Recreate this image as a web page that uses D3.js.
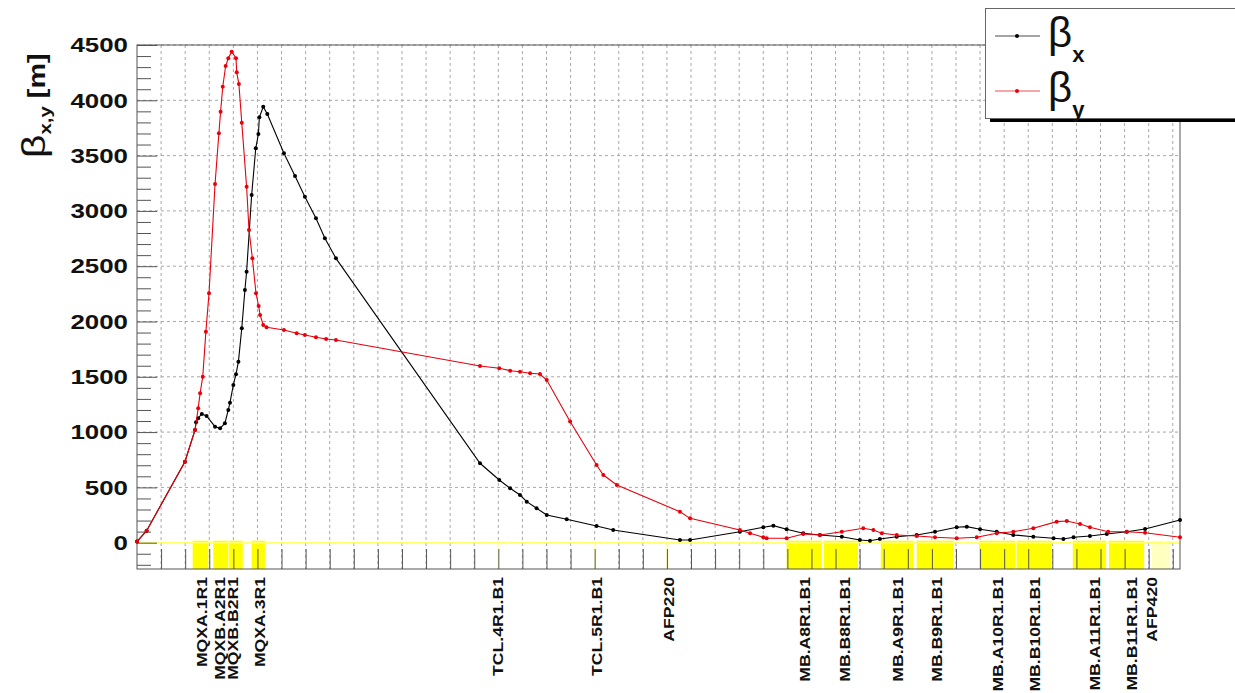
<!DOCTYPE html>
<html>
<head>
<meta charset="utf-8">
<script src="https://cdn.jsdelivr.net/npm/d3@7"></script>
<style>
body { margin: 0; background: #fff; }
svg { display: block; font-family: "Liberation Sans", Arial, sans-serif; }
</style>
</head>
<body>
<div id="chartDiv"></div>
<script>
// beta_y (red), s in m
var sY = [0, 4.0, 19.9, 24.1, 25.4, 26.2, 27.3, 28.6, 29.9, 32.4, 34.0, 34.7, 35.6, 36.8, 37.9, 39.3, 41.1, 41.4, 42.3, 43.5,
  45.5, 46.5, 47.9, 49.4, 50.5, 51.1, 52.4, 53.8, 61.0, 66.3, 69.7, 74.3, 78.5, 82.6, 142.4, 150.4, 154.9, 159.0, 163.2, 167.3,
  170.1, 179.8, 190.8, 193.6, 199.2, 225.4, 229.6, 250.3, 254.5, 260.0, 261.4, 269.7, 276.6, 283.5, 292.6, 301.5, 305.7, 309.2,
  315.4, 323.7, 331.3, 340.3, 348.6, 356.9, 363.8, 372.1, 381.8, 386.0, 391.5, 395.6, 403.2, 410.9, 418.5, 433];
var betaY = [10, 108, 732, 1019, 1215, 1351, 1501, 1908, 2255, 3243, 3702, 3897, 4123, 4310, 4380, 4440, 4380, 4253, 4147, 3797,
  3219, 2827, 2571, 2255, 2140, 2059, 1968, 1948, 1923, 1893, 1878, 1857, 1842, 1833, 1598, 1577, 1555, 1546, 1532, 1525,
  1471, 1095, 702, 612, 522, 280, 220, 115, 85, 49, 40, 40, 78, 70, 99, 130, 115, 85,
  70, 61, 49, 40, 49, 85, 99, 130, 190, 196, 169, 139, 99, 99, 90, 49];

// beta_x (black)
var sX = [0, 4.0, 19.9, 24.1, 24.5, 25.4, 26.9, 28.9, 32.4, 34.5, 36.5, 37.9, 38.6, 40.0, 41.1, 42.1, 43.5, 44.8, 45.5, 47.6,
  49.3, 50.4, 50.8, 52.4, 54.1, 61.0, 65.6, 69.7, 74.3, 78.0, 82.6, 142.4, 150.4, 154.9, 159.0, 161.8, 165.9, 170.1, 178.4,
  190.8, 197.7, 225.4, 229.6, 250.3, 260.0, 264.2, 269.7, 276.6, 283.5, 292.6, 300.1, 304.3, 308.4, 315.4, 323.7, 331.3,
  340.3, 344.5, 350.0, 356.9, 363.8, 372.1, 380.5, 384.6, 388.8, 395.6, 402.6, 410.9, 418.5, 433];
var betaX = [10, 108, 732, 1019, 1090, 1125, 1164, 1146, 1049, 1034, 1080, 1200, 1266, 1426, 1523, 1637, 1939, 2285, 2450, 3144,
  3566, 3695, 3846, 3942, 3876, 3521, 3316, 3128, 2933, 2752, 2571, 718, 567, 492, 431, 371, 311, 250, 212,
  151, 115, 24, 24, 99, 139, 154, 121, 85, 70, 54, 24, 18, 33, 54, 70, 99,
  139, 145, 121, 99, 70, 54, 40, 33, 49, 61, 79, 99, 124, 205];

// beamline elements
var elemNames = ["MQXA.1R1", "MQXB.A2R1", "MQXB.B2R1", "MQXA.3R1", "TCL.4R1.B1", "TCL.5R1.B1", "AFP220",
  "MB.A8R1.B1", "MB.B8R1.B1", "MB.A9R1.B1", "MB.B9R1.B1", "MB.A10R1.B1", "MB.B10R1.B1", "MB.A11R1.B1", "MB.B11R1.B1", "AFP420"];
var elemStart = [23.1, 31.7, 38.3, 47.6, 149.4, 189.6, 219.6, 269.7, 285.2, 308.8, 323.7, 349.6, 365.2, 388.5, 403.5, 421.3];
var elemEnd = [29.6, 37.9, 43.9, 53.1, 150.4, 190.6, 220.6, 284.3, 299.3, 322.2, 338.8, 364.5, 379.7, 402.3, 418.1, 428.9];
var elemLabelAt = [26.9, 34.3, 39.8, 51.0, 149.9, 191.0, 221.0, 277.3, 293.9, 316.0, 332.1, 357.4, 372.9, 397.7, 413.1, 421.3];
var elemSolid = [1, 1, 1, 1, 0, 0, 0, 1, 1, 1, 1, 1, 1, 1, 1, 0];

var yMajor = [0, 500, 1000, 1500, 2000, 2500, 3000, 3500, 4000, 4500];
var yMinor = [-200, -100, 100, 200, 300, 400, 600, 700, 800, 900, 1100, 1200, 1300, 1400, 1600, 1700, 1800, 1900,
  2100, 2200, 2300, 2400, 2600, 2700, 2800, 2900, 3100, 3200, 3300, 3400, 3600, 3700, 3800, 3900, 4100, 4200, 4300, 4400];

var width = 1235, height = 693;
var frameL = 137, frameR = 1180, frameT = 45, frameB = 569;

var x = d3.scaleLinear().domain([0, 433]).range([frameL, frameR]);
var y = d3.scaleLinear().domain([-238, 4500]).range([frameB, frameT]);
var xGrid = d3.range(10, 431, 10);

var svg = d3.select("#chartDiv").append("svg")
  .attr("width", width)
  .attr("height", height);

// grid
svg.append("g").selectAll("line").data(xGrid).enter().append("line")
  .attr("x1", function (d) { return x(d); }).attr("x2", function (d) { return x(d); })
  .attr("y1", frameT).attr("y2", frameB)
  .attr("stroke", "#a8a8a8").attr("stroke-dasharray", "3,3");
svg.append("g").selectAll("line").data(yMajor).enter().append("line")
  .attr("x1", frameL).attr("x2", frameR)
  .attr("y1", function (d) { return y(d); }).attr("y2", function (d) { return y(d); })
  .attr("stroke", "#a8a8a8").attr("stroke-dasharray", "3,3");

// elements
svg.append("g").selectAll("rect").data(elemNames).enter().append("rect")
  .attr("x", function (d, i) { return x(elemStart[i]); })
  .attr("width", function (d, i) { return x(elemEnd[i]) - x(elemStart[i]); })
  .attr("y", y(0) - 2)
  .attr("height", frameB - y(0) + 2)
  .attr("fill", function (d, i) { return elemSolid[i] ? "#ffff00" : "#ffffc0"; });

svg.append("line")
  .attr("x1", frameL).attr("x2", frameR)
  .attr("y1", y(0)).attr("y2", y(0))
  .attr("stroke", "#ffff70").attr("stroke-width", 1.5);

// axes
var yAxis = svg.append("g")
  .attr("transform", "translate(" + frameL + ",0)")
  .call(d3.axisLeft(y).tickValues(yMajor).tickSize(-20).tickPadding(9).tickFormat(d3.format("d")));
yAxis.select(".domain").remove();
yAxis.selectAll("line").attr("stroke", "#555");
yAxis.selectAll("text")
  .attr("font-size", 21)
  .attr("font-weight", "bold")
  .attr("font-family", "Liberation Sans, Arial, sans-serif")
  .attr("fill", "#111")
  .attr("textLength", function (d) { return String(d).length * 14.4; })
  .attr("lengthAdjust", "spacingAndGlyphs");

var yMin = svg.append("g")
  .attr("transform", "translate(" + frameL + ",0)")
  .call(d3.axisLeft(y).tickValues(yMinor).tickSize(-14).tickFormat(""));
yMin.select(".domain").remove();
yMin.selectAll("line").attr("stroke", "#555");

var xAxis = svg.append("g")
  .attr("transform", "translate(0," + frameB + ")")
  .call(d3.axisBottom(x).tickValues(xGrid).tickSize(-20).tickFormat(""));
xAxis.select(".domain").remove();
xAxis.selectAll("line").attr("stroke", "#555");

// frame
svg.append("rect")
  .attr("x", frameL).attr("y", frameT)
  .attr("width", frameR - frameL).attr("height", frameB - frameT)
  .attr("fill", "none").attr("stroke", "#555");

// element labels
svg.append("g").selectAll("text").data(elemNames).enter().append("text")
  .attr("transform", function (d, i) { return "translate(" + x(elemLabelAt[i]) + ",577) rotate(-90) scale(1.26,1)"; })
  .attr("dy", "0.36em")
  .attr("text-anchor", "end")
  .attr("font-size", 14)
  .attr("font-weight", "bold")
  .attr("fill", "#111")
  .text(function (d) { return d; });

// curves
var line = d3.line()
  .x(function (d) { return x(d[0]); })
  .y(function (d) { return y(d[1]); });

function drawCurve(s, v, color) {
  var pts = s.map(function (d, i) { return [d, v[i]]; });
  svg.append("path")
    .datum(pts)
    .attr("d", line)
    .attr("fill", "none")
    .attr("stroke", color)
    .attr("stroke-width", 1.1);
  svg.append("g").selectAll("circle").data(pts).enter().append("circle")
    .attr("cx", function (d) { return x(d[0]); })
    .attr("cy", function (d) { return y(d[1]); })
    .attr("r", 2)
    .attr("fill", color);
}
drawCurve(sX, betaX, "#000");
drawCurve(sY, betaY, "#e8000b");

// y title
var yt = svg.append("text")
  .attr("transform", "translate(45,158) rotate(-90) scale(1.2,1)")
  .attr("fill", "#111");
yt.append("tspan").attr("font-size", 34).text("β");
yt.append("tspan").attr("font-size", 17).attr("font-weight", "bold").attr("dy", 6).text("x,y");
yt.append("tspan").attr("font-size", 24).attr("font-weight", "bold").attr("dy", -6).text(" [m]");

// legend
var leg = svg.append("g");
leg.append("rect").attr("x", 990).attr("y", 118).attr("width", 250).attr("height", 4).attr("fill", "#000");
leg.append("rect").attr("x", 985.5).attr("y", 8.5).attr("width", 260).attr("height", 110)
  .attr("fill", "#fff").attr("stroke", "#666");
var legColors = ["#000", "#e8000b"];
var legSub = ["x", "y"];
legColors.forEach(function (c, i) {
  var ly = 36 + i * 55;
  leg.append("line").attr("x1", 995).attr("x2", 1040).attr("y1", ly).attr("y2", ly)
    .attr("stroke", c).attr("stroke-width", 1.1).attr("opacity", 0.7);
  leg.append("circle").attr("cx", 1017).attr("cy", ly).attr("r", 2).attr("fill", c);
  var t = leg.append("text").attr("x", 1048).attr("y", ly + 11).attr("fill", "#111");
  t.append("tspan").attr("font-size", 42).text("β");
  t.append("tspan").attr("font-size", 22).attr("font-weight", "bold").attr("dy", 15).text(legSub[i]);
});
</script>
</body>
</html>
